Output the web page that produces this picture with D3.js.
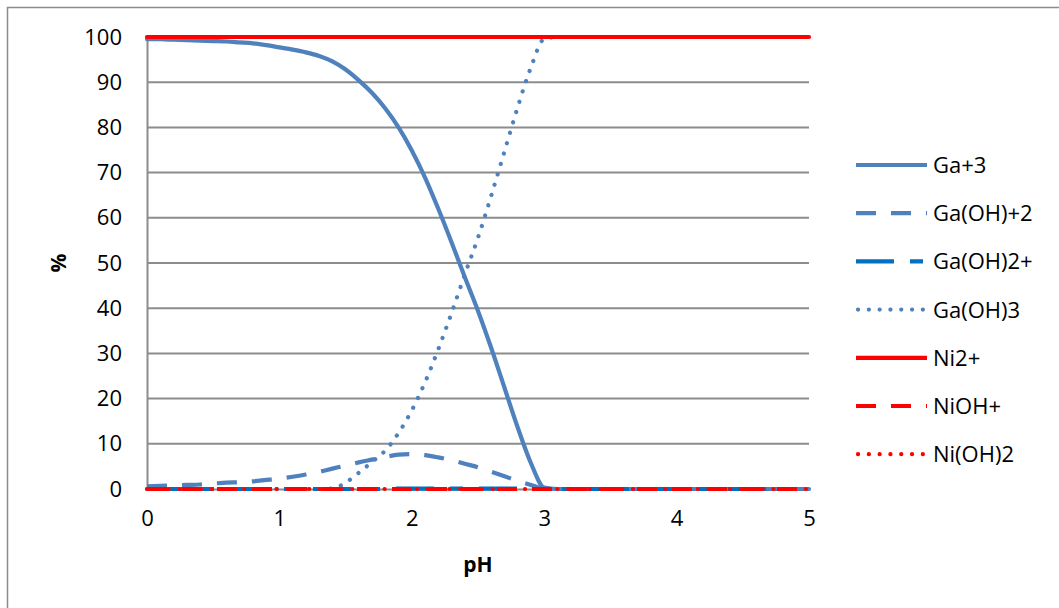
<!DOCTYPE html>
<html>
<head>
<meta charset="utf-8">
<script src="https://cdn.jsdelivr.net/npm/d3@7"></script>
<style>
  body { margin: 0; background: #fff; }
  svg { display: block; font-family: "Open Sans", "Liberation Sans", sans-serif; }
</style>
</head>
<body>
<svg id="chart" width="1059" height="608"></svg>
<script>
// pH values 0..5 step 0.1
const pH = [0,0.1,0.2,0.3,0.4,0.5,0.6,0.7,0.8,0.9,1,1.1,1.2,1.3,1.4,1.5,1.6,1.7,1.8,1.9,2,2.1,2.2,2.3,2.4,2.5,2.6,2.7,2.8,2.9,3,3.1,3.2,3.3,3.4,3.5,3.6,3.7,3.8,3.9,4,4.1,4.2,4.3,4.4,4.5,4.6,4.7,4.8,4.9,5];

const gaP3 = [99.5,99.5,99.4,99.3,99.2,99.1,99.0,98.8,98.6,98.2,97.7,97.2,96.6,95.8,94.6,92.8,90.4,87.6,84.2,80.0,74.9,68.9,62.0,54.6,46.9,39.4,31.2,22.4,13.6,5.7,0.3,0,0,0,0,0,0,0,0,0,0,0,0,0,0,0,0,0,0,0,0];
const gaOHP2 = [0.6,0.7,0.8,0.9,1.0,1.2,1.4,1.5,1.7,2.0,2.3,2.7,3.2,3.8,4.5,5.2,5.9,6.5,7.1,7.6,7.7,7.5,7.0,6.4,5.6,4.8,3.8,2.8,1.8,0.9,0.1,0,0,0,0,0,0,0,0,0,0,0,0,0,0,0,0,0,0,0,0];
const gaOH2P = [0,0,0,0,0,0,0,0,0,0,0,0,0,0,0,0,0,0,0,0.1,0.1,0.1,0.1,0.1,0.1,0.1,0.1,0.1,0.1,0,0,0,0,0,0,0,0,0,0,0,0,0,0,0,0,0,0,0,0,0,0];
const gaOH3 = [0,0,0,0,0,0,0,0,0,0,0,0,0,0,0.1,1.4,3.6,6.0,8.5,12.4,17.4,23.6,30.9,38.9,47.4,55.6,64.9,74.7,84.5,93.3,99.6,100,100,100,100,100,100,100,100,100,100,100,100,100,100,100,100,100,100,100,100];
const ni2P = [100,100,100,100,100,100,100,100,100,100,100,100,100,100,100,100,100,100,100,100,100,100,100,100,100,100,100,100,100,100,100,100,100,100,100,100,100,100,100,100,100,100,100,100,100,100,100,100,100,100,100];
const niOHP = [0,0,0,0,0,0,0,0,0,0,0,0,0,0,0,0,0,0,0,0,0,0,0,0,0,0,0,0,0,0,0,0,0,0,0,0,0,0,0,0,0,0,0,0,0,0,0,0,0,0,0];
const niOH2 = [0,0,0,0,0,0,0,0,0,0,0,0,0,0,0,0,0,0,0,0,0,0,0,0,0,0,0,0,0,0,0,0,0,0,0,0,0,0,0,0,0,0,0,0,0,0,0,0,0,0,0];

const seriesNames = ["Ga+3","Ga(OH)+2","Ga(OH)2+","Ga(OH)3","Ni2+","NiOH+","Ni(OH)2"];
const seriesValues = [gaP3, gaOHP2, gaOH2P, gaOH3, ni2P, niOHP, niOH2];
const seriesColors = ["#4F81BD","#4F81BD","#0070C0","#4F81BD","#FF0000","#FF0000","#FF0000"];
const seriesDash = ["none","20,15","38,16,13,16","0.1,10.7","none","20,15","0.1,10.7"];

const xTicks = [0,1,2,3,4,5];
const yTicks = [0,10,20,30,40,50,60,70,80,90,100];

const svg = d3.select("#chart");

// outer chart border
svg.append("rect").attr("x",7.5).attr("y",7.5).attr("width",1100).attr("height",700)
  .attr("fill","#fff").attr("stroke","#8c8c8c").attr("stroke-width",1.5);

const x = d3.scaleLinear().domain([0,5]).range([147,809]);
const y = d3.scaleLinear().domain([0,100]).range([489,37]);

// gridlines
svg.append("g").selectAll("line").data(yTicks.filter(d => d > 0)).join("line")
  .attr("x1",x(0)).attr("x2",x(5)).attr("y1",d=>y(d)).attr("y2",d=>y(d))
  .attr("stroke","#8c8c8c").attr("stroke-width",2);

// y axis
const yAxis = d3.axisLeft(y).tickValues(yTicks).tickSize(0).tickPadding(25).tickFormat(d3.format("d"));
const gy = svg.append("g").attr("transform",`translate(${x(0)},0)`).call(yAxis);
gy.select(".domain").attr("stroke","#8c8c8c").attr("stroke-width",2);
gy.selectAll("text").attr("font-size",22).attr("fill","#000").attr("font-family","'Open Sans', sans-serif");

// x axis
const xAxis = d3.axisBottom(x).tickValues(xTicks).tickSize(0).tickPadding(21).tickFormat(d3.format("d"));
const gx = svg.append("g").attr("transform",`translate(0,${y(0)})`).call(xAxis);
gx.select(".domain").attr("stroke","#8c8c8c").attr("stroke-width",2);
gx.selectAll("text").attr("font-size",22).attr("fill","#000").attr("font-family","'Open Sans', sans-serif");

// axis titles
svg.append("text").attr("x",478).attr("y",572).attr("text-anchor","middle")
  .attr("font-size",21).attr("font-weight","bold").text("pH");
svg.append("text").attr("transform","translate(66,263) rotate(-90)").attr("text-anchor","middle")
  .attr("font-size",21).attr("font-weight","bold").text("%");

// series
const line = d3.line().x((d,i)=>x(pH[i])).y(d=>y(d)).curve(d3.curveMonotoneX);
const gS = svg.append("g");
seriesValues.forEach((vals,k) => {
  gS.append("path").datum(vals).attr("d",line)
    .attr("fill","none").attr("stroke",seriesColors[k])
    .attr("stroke-width",4.2)
    .attr("stroke-linecap", (seriesDash[k].startsWith("0.1") || seriesDash[k]==="none") ? "round" : "butt")
    .attr("stroke-dasharray", seriesDash[k]);
});

// legend
const lg = svg.append("g");
seriesNames.forEach((name,k) => {
  const yy = 165 + k*48.2;
  const dotted = seriesDash[k].startsWith("0.1");
  lg.append("line").attr("x1",dotted?858:856).attr("x2",927).attr("y1",yy).attr("y2",yy)
    .attr("stroke",seriesColors[k]).attr("stroke-width",4.2)
    .attr("stroke-linecap", dotted ? "round" : "butt")
    .attr("stroke-dasharray", seriesDash[k]);
  lg.append("text").attr("x",933).attr("y",yy).attr("dy","0.36em")
    .attr("font-size",22).attr("fill","#000").text(name);
});
</script>
</body>
</html>
